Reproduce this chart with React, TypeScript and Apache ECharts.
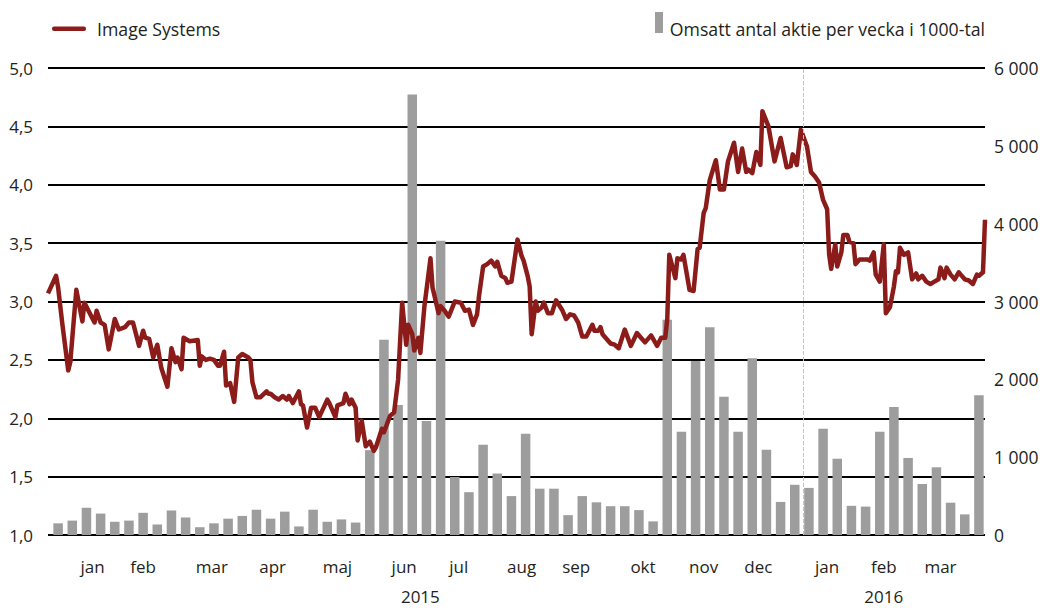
import { useEffect, useRef } from "react";
import * as echarts from "echarts";

const priceName = "Image Systems";
const volumeName = "Omsatt antal aktie per vecka i 1000-tal";

const axisStart = "2014-12-24";
const axisEnd = "2016-03-31";
const yearBoundary = "2016-01-01";

const priceDates = [
  "2014-12-24","2014-12-28","2014-12-29","2014-12-31","2015-01-03","2015-01-04","2015-01-07","2015-01-10","2015-01-11","2015-01-13",
  "2015-01-16","2015-01-17","2015-01-19","2015-01-21","2015-01-23","2015-01-26","2015-01-28","2015-01-31","2015-02-02","2015-02-04",
  "2015-02-07","2015-02-09","2015-02-10","2015-02-12","2015-02-14","2015-02-16","2015-02-18","2015-02-21","2015-02-23","2015-02-25",
  "2015-02-26","2015-02-28","2015-03-01","2015-03-04","2015-03-08","2015-03-09","2015-03-10","2015-03-12","2015-03-14","2015-03-16",
  "2015-03-18","2015-03-19","2015-03-21","2015-03-22","2015-03-24","2015-03-26","2015-03-28","2015-03-30","2015-04-02","2015-04-03",
  "2015-04-04","2015-04-06","2015-04-08","2015-04-11","2015-04-12","2015-04-13","2015-04-15","2015-04-17","2015-04-19","2015-04-21",
  "2015-04-22","2015-04-24","2015-04-27","2015-04-28","2015-04-29","2015-05-01","2015-05-03","2015-05-05","2015-05-07","2015-05-11",
  "2015-05-12","2015-05-15","2015-05-16","2015-05-19","2015-05-20","2015-05-22","2015-05-23","2015-05-25","2015-05-26","2015-05-28",
  "2015-05-30","2015-06-01","2015-06-03","2015-06-04","2015-06-07","2015-06-08","2015-06-11","2015-06-13","2015-06-15","2015-06-17",
  "2015-06-19","2015-06-20","2015-06-22","2015-06-23","2015-06-25","2015-06-26","2015-06-28","2015-07-01","2015-07-02","2015-07-05",
  "2015-07-06","2015-07-08","2015-07-10","2015-07-13","2015-07-16","2015-07-18","2015-07-20","2015-07-22","2015-07-24","2015-07-25",
  "2015-07-27","2015-07-29","2015-07-31","2015-08-02","2015-08-03","2015-08-05","2015-08-07","2015-08-08","2015-08-10","2015-08-13",
  "2015-08-15","2015-08-16","2015-08-18","2015-08-19","2015-08-20","2015-08-22","2015-08-23","2015-08-25","2015-08-26","2015-08-28",
  "2015-08-30","2015-09-01","2015-09-04","2015-09-06","2015-09-08","2015-09-10","2015-09-12","2015-09-14","2015-09-16","2015-09-19",
  "2015-09-20","2015-09-22","2015-09-23","2015-09-24","2015-09-27","2015-09-28","2015-09-30","2015-10-02","2015-10-05","2015-10-08",
  "2015-10-11","2015-10-13","2015-10-15","2015-10-18","2015-10-21","2015-10-23","2015-10-25","2015-10-26","2015-10-27","2015-10-30",
  "2015-10-31","2015-11-02","2015-11-03","2015-11-06","2015-11-08","2015-11-10","2015-11-11","2015-11-13","2015-11-14","2015-11-16",
  "2015-11-19","2015-11-21","2015-11-23","2015-11-25","2015-11-28","2015-11-30","2015-12-02","2015-12-04","2015-12-05","2015-12-07",
  "2015-12-09","2015-12-11","2015-12-12","2015-12-15","2015-12-18","2015-12-21","2015-12-24","2015-12-26","2015-12-27","2015-12-29",
  "2015-12-31","2016-01-03","2016-01-05","2016-01-07","2016-01-09","2016-01-11","2016-01-13","2016-01-14","2016-01-15","2016-01-17",
  "2016-01-18","2016-01-20","2016-01-21","2016-01-23","2016-01-24","2016-01-26","2016-01-27","2016-01-29","2016-02-02","2016-02-03",
  "2016-02-05","2016-02-06","2016-02-08","2016-02-10","2016-02-11","2016-02-13","2016-02-15","2016-02-16","2016-02-17","2016-02-18",
  "2016-02-20","2016-02-22","2016-02-24","2016-02-26","2016-02-27","2016-02-29","2016-03-02","2016-03-04","2016-03-06","2016-03-08",
  "2016-03-09","2016-03-11","2016-03-12","2016-03-14","2016-03-16","2016-03-18","2016-03-19","2016-03-21","2016-03-23","2016-03-25",
  "2016-03-27","2016-03-28","2016-03-30","2016-03-31",
];

const prices = [
  3.07,3.22,3.12,2.82,2.41,2.48,3.10,2.83,2.99,2.92,
  2.82,2.92,2.82,2.80,2.59,2.85,2.76,2.78,2.82,2.82,
  2.62,2.75,2.69,2.68,2.52,2.63,2.43,2.27,2.60,2.48,
  2.52,2.42,2.69,2.66,2.67,2.45,2.53,2.50,2.51,2.50,
  2.45,2.45,2.57,2.28,2.30,2.14,2.52,2.55,2.52,2.50,
  2.31,2.18,2.18,2.23,2.21,2.21,2.18,2.16,2.19,2.16,
  2.19,2.13,2.23,2.12,2.11,1.92,2.09,2.09,2.01,2.16,
  2.13,2.01,2.11,2.13,2.21,2.12,2.16,2.09,1.81,1.98,
  1.76,1.80,1.72,1.75,1.91,1.88,2.02,2.05,2.33,2.99,
  2.63,2.80,2.72,2.58,2.69,2.56,2.96,3.37,3.12,2.90,
  2.96,2.92,2.87,3.00,2.99,2.92,2.93,2.80,2.89,3.05,
  3.30,3.32,3.35,3.30,3.34,3.22,3.20,3.16,3.17,3.53,
  3.39,3.35,3.22,3.13,2.72,3.00,2.92,2.95,2.99,2.90,
  2.90,3.01,2.93,2.85,2.89,2.88,2.82,2.70,2.70,2.80,
  2.75,2.75,2.78,2.72,2.66,2.64,2.63,2.60,2.76,2.62,
  2.73,2.69,2.65,2.71,2.62,2.69,2.69,2.85,3.40,3.20,
  3.37,3.36,3.40,3.10,3.09,3.45,3.46,3.76,3.80,4.04,
  4.21,3.96,3.96,4.20,4.36,4.11,4.31,4.11,4.13,4.10,
  4.28,4.17,4.63,4.50,4.20,4.40,4.15,4.16,4.26,4.17,
  4.47,4.33,4.11,4.07,4.02,3.87,3.79,3.40,3.28,3.49,
  3.30,3.42,3.57,3.57,3.51,3.50,3.32,3.36,3.36,3.35,
  3.42,3.23,3.17,3.49,2.90,2.95,3.13,3.26,3.25,3.46,
  3.40,3.42,3.19,3.24,3.19,3.22,3.17,3.15,3.17,3.19,
  3.29,3.20,3.29,3.23,3.19,3.25,3.23,3.19,3.18,3.15,
  3.23,3.22,3.25,3.70,
];

const volumeWeeks = [
  "2014-12-29","2015-01-05","2015-01-12","2015-01-19","2015-01-26","2015-02-02","2015-02-09","2015-02-16","2015-02-23","2015-03-02",
  "2015-03-09","2015-03-16","2015-03-23","2015-03-30","2015-04-06","2015-04-13","2015-04-20","2015-04-27","2015-05-04","2015-05-11",
  "2015-05-18","2015-05-25","2015-06-01","2015-06-08","2015-06-15","2015-06-22","2015-06-29","2015-07-06","2015-07-13","2015-07-20",
  "2015-07-27","2015-08-03","2015-08-10","2015-08-17","2015-08-24","2015-08-31","2015-09-07","2015-09-14","2015-09-21","2015-09-28",
  "2015-10-05","2015-10-12","2015-10-19","2015-10-26","2015-11-02","2015-11-09","2015-11-16","2015-11-23","2015-11-30","2015-12-07",
  "2015-12-14","2015-12-21","2015-12-28","2016-01-04","2016-01-11","2016-01-18","2016-01-25","2016-02-01","2016-02-08","2016-02-15",
  "2016-02-22","2016-02-29","2016-03-07","2016-03-14","2016-03-21","2016-03-28",
];

const volumes = [
  150,185,350,275,170,185,285,135,315,225,
  100,150,210,245,325,210,300,110,325,170,
  200,160,1090,2510,1670,5660,1465,3780,745,550,
  1160,790,500,1300,595,595,255,500,420,370,
  370,320,175,2765,1325,2235,2670,1775,1325,2270,
  1095,425,645,605,1365,980,375,365,1325,1645,
  990,655,870,415,265,1795,
];

const monthLabelDates = [
  "2015-01-15","2015-02-09","2015-03-15","2015-04-14","2015-05-16","2015-06-18","2015-07-15","2015-08-15",
  "2015-09-11","2015-10-14","2015-11-13","2015-12-10","2016-01-13","2016-02-10","2016-03-09",
];
const monthLabels = ["jan","feb","mar","apr","maj","jun","jul","aug","sep","okt","nov","dec","jan","feb","mar"];

const yearLabelDates = ["2015-06-26", "2016-02-10"];
const yearLabels = ["2015", "2016"];

const FONT = "Open Sans";
const TEXT = "#231f20";
const RED = "#8b1c1a";
const GREY = "#9d9d9d";

function toTime(s: string): number {
  const [y, m, d] = s.split("-").map(Number);
  return new Date(y, m - 1, d).getTime();
}

function lookup(value: number, dates: string[], labels: string[]): string {
  const times = dates.map(toTime);
  let best = 0;
  for (let i = 1; i < times.length; i++) {
    if (Math.abs(times[i] - value) < Math.abs(times[best] - value)) best = i;
  }
  return Math.abs(times[best] - value) < 86400000 ? labels[best] : "";
}

export default function App() {
  const ref = useRef<HTMLDivElement>(null);

  useEffect(() => {
    if (!ref.current) return;
    const chart = echarts.init(ref.current, null, { renderer: "svg" });
    const xBase = {
      type: "value" as const,
      min: toTime(axisStart),
      max: toTime(axisEnd),
      scale: true,
      axisLine: { show: false },
      axisTick: { show: false },
      splitLine: { show: false },
    };
    chart.setOption({
      animation: false,
      backgroundColor: "#ffffff",
      textStyle: { fontFamily: FONT },
      grid: { left: 48, right: 63, top: 68, bottom: 73, containLabel: false },
      xAxis: [
        {
          ...xBase,
          axisLabel: {
            customValues: monthLabelDates.map(toTime),
            formatter: (v: number) => lookup(v, monthLabelDates, monthLabels),
            margin: 23,
            fontSize: 17,
            fontFamily: FONT,
            color: TEXT,
            hideOverlap: false,
          },
        },
        {
          ...xBase,
          position: "bottom",
          axisLabel: {
            customValues: yearLabelDates.map(toTime),
            formatter: (v: number) => lookup(v, yearLabelDates, yearLabels),
            margin: 53,
            fontSize: 17,
            fontFamily: FONT,
            color: TEXT,
            hideOverlap: false,
          },
        },
      ],
      yAxis: [
        {
          type: "value",
          position: "left",
          min: 1,
          max: 5,
          interval: 0.5,
          axisLine: { show: false },
          axisTick: { show: false },
          splitLine: { show: true, lineStyle: { color: "#000000", width: 2 } },
          axisLabel: {
            formatter: (v: number) => v.toFixed(1).replace(".", ","),
            margin: 15,
            fontSize: 17,
            fontFamily: FONT,
            color: TEXT,
          },
        },
        {
          type: "value",
          position: "right",
          min: 0,
          max: 6000,
          interval: 1000,
          axisLine: { show: false },
          axisTick: { show: false },
          splitLine: { show: false },
          axisLabel: {
            formatter: (v: number) => String(v).replace(/\B(?=(\d{3})+(?!\d))/g, " "),
            margin: 9,
            fontSize: 17.5,
            fontFamily: FONT,
            color: TEXT,
          },
        },
      ],
      series: [
        {
          name: volumeName,
          type: "bar",
          xAxisIndex: 0,
          yAxisIndex: 1,
          barWidth: 9.5,
          itemStyle: { color: GREY },
          data: volumeWeeks.map((d, i) => [toTime(d), volumes[i]]),
          markLine: {
            silent: true,
            symbol: ["none", "none"],
            label: { show: false },
            lineStyle: { type: "dashed", color: "#c4c4c4", width: 1 },
            data: [{ xAxis: toTime(yearBoundary) }],
          },
          z: 2,
        },
        {
          name: priceName,
          type: "line",
          xAxisIndex: 0,
          yAxisIndex: 0,
          showSymbol: false,
          symbol: "none",
          lineStyle: { color: RED, width: 4.5, join: "round" },
          data: priceDates.map((d, i) => [toTime(d), prices[i]]),
          z: 3,
        },
      ],
      graphic: [
        { type: "rect", shape: { x: 52, y: 26.5, width: 34, height: 4.5, r: 2 }, style: { fill: RED } },
        {
          type: "text",
          x: 97,
          y: 28.5,
          style: { text: priceName, fontSize: 17.7, fontFamily: FONT, fill: TEXT, verticalAlign: "middle", align: "left" },
        },
        { type: "rect", shape: { x: 655, y: 12, width: 8, height: 21 }, style: { fill: GREY } },
        {
          type: "text",
          x: 985,
          y: 28.5,
          style: { text: volumeName, fontSize: 17.7, fontFamily: FONT, fill: TEXT, verticalAlign: "middle", align: "right" },
        },
      ],
    });
    return () => chart.dispose();
  }, []);

  return <div ref={ref} style={{ position: "fixed", left: 0, top: 0, width: 1048, height: 608 }} />;
}
